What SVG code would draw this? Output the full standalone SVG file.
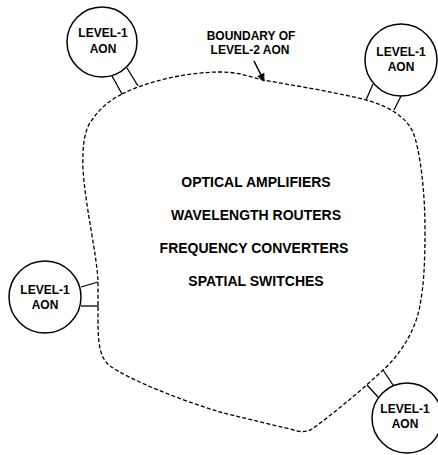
<svg xmlns="http://www.w3.org/2000/svg" width="438" height="455" viewBox="0 0 438 455">
<style>
  .bg { fill: #ffffff; }
  .node { fill: #ffffff; stroke: #000; stroke-width: 1.5; }
  .boundary { fill: none; stroke: #000; stroke-width: 1.3; stroke-dasharray: 4 2.2; }
  .link { fill: none; stroke: #000; stroke-width: 1.3; }
  .ptr { fill: none; stroke: #000; stroke-width: 1.6; }
  .lbl { font-family: "Liberation Sans", Arial, sans-serif; font-weight: bold; font-size: 12px; fill: #000; text-anchor: middle; }
  .big { font-family: "Liberation Sans", Arial, sans-serif; font-weight: bold; font-size: 14px; fill: #000; text-anchor: middle; }
</style>
<defs>
  <marker id="arrow" viewBox="0 0 10 10" refX="9" refY="5" markerWidth="9" markerHeight="8" markerUnits="userSpaceOnUse" orient="auto">
    <path d="M0,0 L10,5 L0,10 Z" fill="#000"/>
  </marker>
</defs>
<rect class="bg" x="0" y="0" width="438" height="455"/>

<g id="level2-aon">
  <path class="boundary" d="M122,94 C150,80 190,72 220,72 C240,72 250,77 263,80 L320,90 C345,95 360,98 366,100 C385,105 405,115 413,132 C420,150 425,190 425,230 C425,260 424,285 420,305 C416,330 400,355 383,370 C360,392 325,420 312,429 C305,433 300,432 290,429 C260,422 240,417 220,412 C180,400 130,380 110,366 C100,358 98,345 98,320 L98,280 C96,250 86,210 83,170 C82,145 85,128 92,120 C100,108 110,100 122,94 Z"/>
  <text class="big" x="256" y="187">OPTICAL AMPLIFIERS</text>
  <text class="big" x="256" y="220">WAVELENGTH ROUTERS</text>
  <text class="big" x="254" y="253">FREQUENCY CONVERTERS</text>
  <text class="big" x="256" y="286">SPATIAL SWITCHES</text>
</g>

<g id="boundary-label">
  <text class="lbl" x="251" y="40">BOUNDARY OF</text>
  <text class="lbl" x="250" y="54">LEVEL-2 AON</text>
</g>

<g id="connectors">
  <line class="link" x1="112" y1="76" x2="122" y2="94"/>
  <line class="link" x1="127" y1="68" x2="138" y2="86"/>
  <line class="link" x1="373" y1="84" x2="366" y2="100"/>
  <line class="link" x1="401" y1="96" x2="394" y2="110"/>
  <line class="link" x1="81" y1="287" x2="98" y2="282"/>
  <line class="link" x1="81" y1="306" x2="99" y2="306"/>
  <line class="link" x1="367" y1="385" x2="378" y2="397"/>
  <line class="link" x1="383" y1="370" x2="393" y2="385"/>
  <line class="ptr" x1="254" y1="61" x2="264" y2="81" marker-end="url(#arrow)"/>
</g>

<g id="aon-top-left">
  <circle class="node" cx="102" cy="42" r="35"/>
  <text class="lbl" x="103" y="37">LEVEL-1</text>
  <text class="lbl" x="103" y="53">AON</text>
</g>
<g id="aon-top-right">
  <circle class="node" cx="401" cy="60" r="36"/>
  <text class="lbl" x="401" y="56">LEVEL-1</text>
  <text class="lbl" x="401" y="71">AON</text>
</g>
<g id="aon-left">
  <circle class="node" cx="45" cy="297" r="36"/>
  <text class="lbl" x="45" y="294">LEVEL-1</text>
  <text class="lbl" x="45" y="309">AON</text>
</g>
<g id="aon-bottom-right">
  <circle class="node" cx="407" cy="418" r="35"/>
  <text class="lbl" x="405" y="413">LEVEL-1</text>
  <text class="lbl" x="405" y="428">AON</text>
</g>
</svg>
